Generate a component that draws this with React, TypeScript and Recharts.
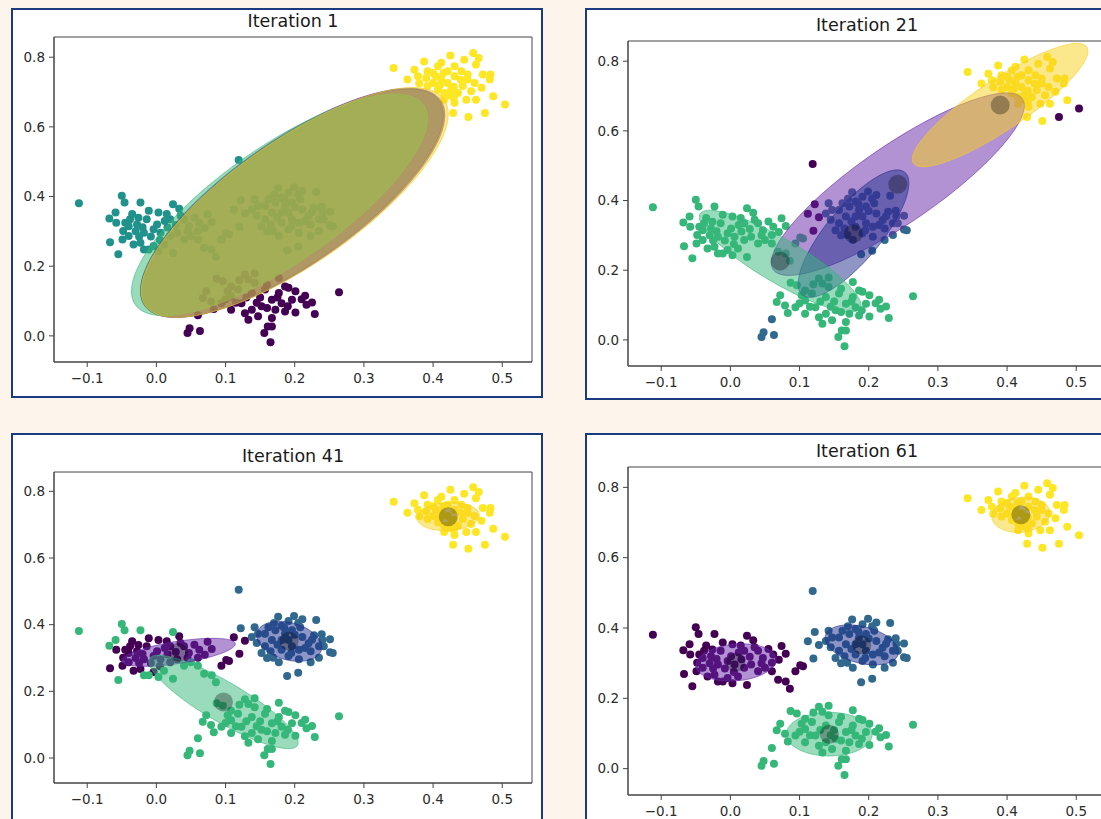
import { ReferenceArea, Scatter, ScatterChart, XAxis, YAxis } from "recharts";

// [x, y, colour code at iteration 1 / 21 / 41 / 61]
type Pt = [number, number, string];
// [centre x, centre y, half-extent x, half-extent y, correlation, colour code]
type Ell = [number, number, number, number, number, string];

const ITERATIONS = [1, 21, 41, 61];
const X_TICKS = [-0.1, 0, 0.1, 0.2, 0.3, 0.4, 0.5];
const Y_TICKS = [0, 0.2, 0.4, 0.6, 0.8];
const X_DOMAIN: [number, number] = [-0.148, 0.543];
const Y_DOMAIN: [number, number] = [-0.075, 0.858];

const DOT: Record<string, string> = {
  p: "#440154",
  b: "#31688e",
  t: "#21918c",
  g: "#35b779",
  y: "#fde725",
};
const SHADE: Record<string, string> = {
  p: "#6526a8",
  b: "#1f2e8e",
  g: "#35b779",
  y: "#f8cf1a",
};

const LEFT_CLUSTER: Pt[] = [
  [-0.112, 0.381, "tggp"], [-0.05, 0.402, "tggp"], [-0.046, 0.383, "tggp"],
  [-0.023, 0.383, "tggp"], [-0.068, 0.337, "tggp"], [-0.059, 0.354, "tggp"],
  [-0.067, 0.269, "tgpp"], [-0.055, 0.234, "tggp"], [-0.049, 0.277, "tgpp"],
  [-0.04, 0.315, "tgpp"], [-0.033, 0.262, "tgpp"], [-0.023, 0.267, "tgpp"],
  [-0.011, 0.248, "tggp"], [0.003, 0.243, "tggp"], [0.024, 0.378, "tggp"],
  [0.033, 0.365, "tgpp"], [0.003, 0.354, "tgpp"], [-0.011, 0.359, "tgpp"],
  [0.074, 0.349, "tgpp"], [0.08, 0.327, "tgpp"], [0.062, 0.325, "tgpp"],
  [0.06, 0.301, "tgpp"], [0.047, 0.315, "tgpp"], [0.094, 0.277, "tgpp"],
  [0.101, 0.294, "tgpp"], [0.105, 0.291, "tgpp"], [0.069, 0.253, "tggp"],
  [0.08, 0.248, "tggp"], [0.086, 0.227, "tggp"], [0.024, 0.238, "tggp"],
  [-0.038, 0.335, "tgpp"], [-0.028, 0.32, "tgpp"], [-0.018, 0.296, "tgpp"],
  [-0.004, 0.306, "tgpp"], [0.006, 0.296, "tgpp"], [0.016, 0.311, "tgpp"],
  [0.02, 0.287, "tgpp"], [0.03, 0.296, "tgpp"], [0.04, 0.277, "tggp"],
  [0.011, 0.262, "tggp"], [-0.004, 0.258, "tgpp"], [-0.018, 0.248, "tggp"],
  [-0.04, 0.287, "tgpp"], [-0.048, 0.301, "tgpp"], [0.04, 0.335, "tgpp"],
  [0.05, 0.287, "tggp"], [0.06, 0.277, "tggp"], [0.02, 0.335, "tgpp"],
  [-0.014, 0.335, "tgpp"], [0.001, 0.32, "tgpp"], [-0.026, 0.339, "tgpp"],
  [-0.058, 0.325, "tgpp"], [-0.03, 0.3, "tgpp"], [-0.008, 0.285, "tgpp"],
  [0.012, 0.33, "tgpp"], [0.028, 0.318, "tgpp"], [-0.02, 0.312, "tgpp"],
  [0.005, 0.275, "tgpp"], [0.035, 0.345, "tgpp"], [-0.035, 0.35, "tgpp"],
  [0.055, 0.34, "tgpp"], [0.015, 0.35, "tgpp"], [-0.045, 0.325, "tgpp"],
  [0.045, 0.3, "tgpp"], [0.07, 0.31, "tgpp"], [-0.025, 0.285, "tgpp"],
];

const MIDDLE_CLUSTER: Pt[] = [
  [0.122, 0.389, "tpbb"], [0.112, 0.362, "tppb"], [0.128, 0.352, "tppb"],
  [0.12, 0.313, "tppb"], [0.119, 0.505, "tpbb"], [0.142, 0.392, "tbbb"],
  [0.176, 0.424, "tbbb"], [0.199, 0.426, "tbbb"], [0.211, 0.416, "tbbb"],
  [0.231, 0.414, "tbbb"], [0.228, 0.368, "tbbb"], [0.239, 0.371, "tbbb"],
  [0.251, 0.356, "tbbb"], [0.251, 0.317, "tbbb"], [0.255, 0.315, "tbbb"],
  [0.235, 0.301, "tbbb"], [0.223, 0.287, "tbbb"], [0.205, 0.256, "tbbb"],
  [0.189, 0.246, "tbbb"], [0.177, 0.287, "tbbb"], [0.169, 0.301, "tbbb"],
  [0.157, 0.335, "tbbb"], [0.147, 0.373, "tbbb"], [0.162, 0.392, "tbbb"],
  [0.181, 0.397, "tbbb"], [0.196, 0.383, "tbbb"], [0.208, 0.392, "tbbb"],
  [0.22, 0.344, "tbbb"], [0.206, 0.325, "tbbb"], [0.191, 0.306, "tbbb"],
  [0.181, 0.325, "tbbb"], [0.167, 0.354, "tbbb"], [0.191, 0.354, "tbbb"],
  [0.196, 0.335, "tbbb"], [0.211, 0.363, "tbbb"], [0.235, 0.335, "tbbb"],
  [0.157, 0.373, "tbbb"], [0.186, 0.373, "tbbb"], [0.152, 0.315, "tbbb"],
  [0.206, 0.296, "tbbb"], [0.223, 0.32, "tbbb"], [0.172, 0.383, "tbbb"],
  [0.181, 0.354, "tbbb"], [0.138, 0.363, "tbbb"], [0.191, 0.411, "tbbb"],
  [0.242, 0.335, "tbbb"], [0.175, 0.34, "tbbb"], [0.2, 0.37, "tbbb"],
  [0.215, 0.33, "tbbb"], [0.165, 0.32, "tbbb"], [0.185, 0.39, "tbbb"],
  [0.195, 0.315, "tbbb"], [0.225, 0.355, "tbbb"], [0.17, 0.405, "tbbb"],
  [0.145, 0.345, "tbbb"], [0.24, 0.355, "tbbb"], [0.16, 0.3, "tbbb"],
  [0.205, 0.405, "tbbb"],
];

const LOWER_CLUSTER: Pt[] = [
  [0.264, 0.125, "pggg"], [0.045, 0.008, "pbgg"], [0.048, 0.022, "pbgg"],
  [0.063, 0.014, "pbgg"], [0.06, 0.059, "pbgg"], [0.083, 0.077, "pggg"],
  [0.087, 0.164, "pggg"], [0.067, 0.109, "pggg"], [0.072, 0.128, "pggg"],
  [0.096, 0.157, "pggg"], [0.108, 0.142, "pggg"], [0.128, 0.176, "pggg"],
  [0.142, 0.179, "pggg"], [0.133, 0.162, "pggg"], [0.177, 0.166, "pggg"],
  [0.191, 0.138, "pggg"], [0.215, 0.115, "pggg"], [0.217, 0.089, "pggg"],
  [0.225, 0.096, "pggg"], [0.229, 0.063, "pggg"], [0.201, 0.067, "pggg"],
  [0.186, 0.07, "pggg"], [0.167, 0.051, "pggg"], [0.156, 0.008, "pggg"],
  [0.165, -0.018, "pggg"], [0.161, 0.027, "pggg"], [0.147, 0.056, "pggg"],
  [0.128, 0.065, "pggg"], [0.108, 0.075, "pggg"], [0.094, 0.094, "pggg"],
  [0.108, 0.113, "pggg"], [0.123, 0.094, "pggg"], [0.138, 0.123, "pggg"],
  [0.157, 0.133, "pggg"], [0.167, 0.104, "pggg"], [0.181, 0.094, "pggg"],
  [0.177, 0.123, "pggg"], [0.196, 0.104, "pggg"], [0.186, 0.142, "pggg"],
  [0.152, 0.085, "pggg"], [0.138, 0.075, "pggg"], [0.118, 0.133, "pggg"],
  [0.103, 0.128, "pggg"], [0.142, 0.152, "pggg"], [0.16, 0.147, "pggg"],
  [0.172, 0.075, "pggg"], [0.133, 0.046, "pggg"], [0.167, 0.027, "pggg"],
  [0.201, 0.128, "pggg"], [0.079, 0.099, "pggg"], [0.115, 0.095, "pggg"],
  [0.13, 0.11, "pggg"], [0.15, 0.11, "pggg"], [0.16, 0.08, "pggg"],
  [0.145, 0.095, "pggg"], [0.175, 0.11, "pggg"], [0.12, 0.16, "pggg"],
  [0.19, 0.085, "pggg"], [0.21, 0.105, "pggg"], [0.1, 0.105, "pggg"],
];

const UPPER_CLUSTER: Pt[] = [
  [0.343, 0.769, "yyyy"], [0.373, 0.764, "yyyy"], [0.387, 0.788, "yyyy"],
  [0.425, 0.805, "yyyy"], [0.458, 0.812, "yyyy"], [0.466, 0.798, "yyyy"],
  [0.462, 0.779, "yyyy"], [0.483, 0.75, "yyyy"], [0.482, 0.736, "yyyy"],
  [0.487, 0.688, "yyyy"], [0.504, 0.664, "ypyy"], [0.475, 0.64, "ypyy"],
  [0.451, 0.628, "yyyy"], [0.429, 0.64, "yyyy"], [0.431, 0.669, "yyyy"],
  [0.448, 0.678, "yyyy"], [0.462, 0.678, "yyyy"], [0.363, 0.736, "yyyy"],
  [0.378, 0.745, "yyyy"], [0.392, 0.76, "yyyy"], [0.407, 0.774, "yyyy"],
  [0.4, 0.726, "yyyy"], [0.412, 0.736, "yyyy"], [0.421, 0.76, "yyyy"],
  [0.431, 0.745, "yyyy"], [0.441, 0.76, "yyyy"], [0.45, 0.736, "yyyy"],
  [0.443, 0.717, "yyyy"], [0.426, 0.707, "yyyy"], [0.416, 0.697, "yyyy"],
  [0.407, 0.707, "yyyy"], [0.421, 0.726, "yyyy"], [0.436, 0.697, "yyyy"],
  [0.46, 0.726, "yyyy"], [0.47, 0.712, "yyyy"], [0.455, 0.702, "yyyy"],
  [0.392, 0.717, "yyyy"], [0.404, 0.745, "yyyy"], [0.472, 0.75, "yyyy"],
  [0.431, 0.774, "yyyy"], [0.412, 0.784, "yyyy"], [0.445, 0.793, "yyyy"],
  [0.416, 0.678, "yyyy"], [0.43, 0.683, "yyyy"], [0.41, 0.72, "yyyy"],
  [0.43, 0.715, "yyyy"], [0.4, 0.755, "yyyy"], [0.44, 0.735, "yyyy"],
  [0.425, 0.69, "yyyy"], [0.39, 0.74, "yyyy"], [0.415, 0.755, "yyyy"],
  [0.38, 0.725, "yyyy"], [0.45, 0.75, "yyyy"],
];

const ELLIPSES_1: Ell[] = [
  [0.197, 0.382, 0.22, 0.329, 0.765, "p"],
  [0.196, 0.381, 0.219, 0.328, 0.77, "b"],
  [0.178, 0.376, 0.214, 0.318, 0.78, "g"],
  [0.2, 0.383, 0.222, 0.33, 0.77, "y"],
];
const ELLIPSES_21: Ell[] = [
  [0.242, 0.447, 0.183, 0.262, 0.86, "p"],
  [0.178, 0.305, 0.08, 0.183, 0.79, "b"],
  [0.072, 0.226, 0.117, 0.146, -0.87, "g"],
  [0.39, 0.674, 0.127, 0.177, 0.876, "y"],
];
const ELLIPSES_41: Ell[] = [
  [0.032, 0.317, 0.082, 0.042, 0.6, "p"],
  [0.192, 0.35, 0.047, 0.06, -0.3, "b"],
  [0.097, 0.168, 0.108, 0.14, -0.87, "g"],
  [0.422, 0.724, 0.045, 0.042, 0.1, "y"],
];
const ELLIPSES_61: Ell[] = [
  [0.008, 0.302, 0.058, 0.053, 0.15, "p"],
  [0.19, 0.352, 0.053, 0.057, -0.35, "b"],
  [0.143, 0.098, 0.062, 0.062, 0, "g"],
  [0.42, 0.722, 0.042, 0.05, 0.1, "y"],
];
const ELLIPSES = [ELLIPSES_1, ELLIPSES_21, ELLIPSES_41, ELLIPSES_61];
const SHOW_MEANS = [false, true, true, true];

const ALL_POINTS = [...LEFT_CLUSTER, ...MIDDLE_CLUSTER, ...LOWER_CLUSTER, ...UPPER_CLUSTER];

// panel boxes on the page and the plot area inside each
const PANELS = [
  { left: 11, top: 8, height: 390, plotTop: 29, plotH: 325 },
  { left: 585, top: 8, height: 392, plotTop: 33, plotH: 325 },
  { left: 11, top: 433, height: 392, plotTop: 39, plotH: 311 },
  { left: 585, top: 433, height: 392, plotTop: 34, plotH: 328 },
];
const PANEL_W = 532;
const PLOT_LEFT = 43;
const PLOT_W = 478;
const FONT = "'DejaVu Sans', sans-serif";

const fmt = (v: number) => v.toFixed(1).replace("-", "\u2212");

function outline([cx, cy, ax, ay, rho]: Ell) {
  const k = Math.sqrt(1 - rho * rho);
  return Array.from({ length: 97 }, (_, i) => {
    const t = (i / 96) * Math.PI * 2;
    return { x: cx + ax * Math.cos(t), y: cy + ay * (rho * Math.cos(t) + k * Math.sin(t)) };
  });
}

const noDot = () => <g />;

function Panel({ index }: { index: number }) {
  const box = PANELS[index];
  const xAxisH = 30;
  const bottom = box.height - box.plotTop - box.plotH - xAxisH;
  const codes = Object.keys(DOT);
  const ells = ELLIPSES[index];
  const tickStyle = { fill: "#2b2b2b", fontSize: 13.5, fontFamily: FONT };

  return (
    <div
      style={{
        position: "absolute",
        left: box.left,
        top: box.top,
        width: PANEL_W,
        height: box.height,
        background: "#fff",
      }}
    >
      <div
        style={{
          position: "absolute",
          left: PLOT_LEFT,
          width: PLOT_W,
          top: box.plotTop - 27,
          height: 22,
          lineHeight: "22px",
          textAlign: "center",
          fontFamily: FONT,
          fontSize: 17.5,
          color: "#1a1a1a",
        }}
      >
        Iteration {ITERATIONS[index]}
      </div>
      <ScatterChart
        width={PANEL_W}
        height={box.height}
        margin={{ top: box.plotTop, right: PANEL_W - PLOT_LEFT - PLOT_W, bottom, left: 0 }}
        style={{ position: "absolute", left: 0, top: 0 }}
      >
        <XAxis
          type="number"
          dataKey="x"
          domain={X_DOMAIN}
          ticks={X_TICKS}
          allowDataOverflow
          height={xAxisH}
          tickFormatter={fmt}
          tickSize={5}
          tickMargin={6}
          axisLine={{ stroke: "#444" }}
          tickLine={{ stroke: "#444" }}
          tick={tickStyle}
        />
        <YAxis
          type="number"
          dataKey="y"
          domain={Y_DOMAIN}
          ticks={Y_TICKS}
          allowDataOverflow
          width={PLOT_LEFT}
          tickFormatter={fmt}
          tickSize={5}
          tickMargin={4}
          axisLine={{ stroke: "#444" }}
          tickLine={{ stroke: "#444" }}
          tick={tickStyle}
        />
        {codes.map((c) => {
          const pts = ALL_POINTS.filter((p) => p[2][index] === c).map(([x, y]) => ({ x, y }));
          if (!pts.length) return null;
          return (
            <Scatter
              key={`dots-${c}`}
              data={pts}
              isAnimationActive={false}
              shape={(p: any) => <circle cx={p.cx} cy={p.cy} r={4} fill={DOT[c]} />}
            />
          );
        })}
        {ells.map((e, i) => (
          <Scatter
            key={`ell-${i}`}
            data={outline(e)}
            isAnimationActive={false}
            shape={noDot}
            lineType="joint"
            line={{
              fill: SHADE[e[5]],
              fillOpacity: 0.5,
              stroke: SHADE[e[5]],
              strokeOpacity: 0.6,
              strokeWidth: 1,
            }}
          />
        ))}
        {SHOW_MEANS[index] && (
          <Scatter
            data={ells.map(([x, y]) => ({ x, y }))}
            isAnimationActive={false}
            shape={(p: any) => <circle cx={p.cx} cy={p.cy} r={9.5} fill="#000" fillOpacity={0.3} />}
          />
        )}
        <ReferenceArea
          x1={X_DOMAIN[0]}
          x2={X_DOMAIN[1]}
          y1={Y_DOMAIN[0]}
          y2={Y_DOMAIN[1]}
          fill="none"
          stroke="#444"
          strokeWidth={1}
          ifOverflow="visible"
        />
      </ScatterChart>
      <div
        style={{
          position: "absolute",
          inset: 0,
          border: "2px solid #1c3a80",
          pointerEvents: "none",
        }}
      />
    </div>
  );
}

export default function App() {
  return (
    <div
      style={{
        position: "fixed",
        left: 0,
        top: 0,
        width: 1101,
        height: 819,
        overflow: "hidden",
        background: "#fdf5eb",
      }}
    >
      {ITERATIONS.map((_, i) => (
        <Panel key={i} index={i} />
      ))}
    </div>
  );
}
